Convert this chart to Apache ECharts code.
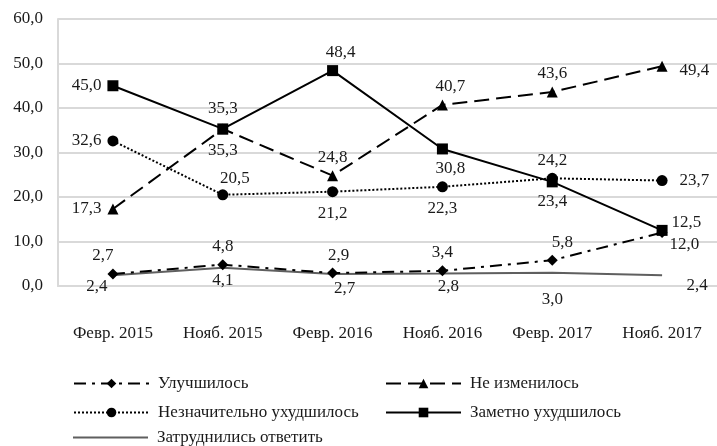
<!DOCTYPE html>
<html><head><meta charset="utf-8">
<script src="https://cdn.jsdelivr.net/npm/echarts@6/dist/echarts.min.js"></script>
<style>html,body{margin:0;padding:0;background:#fff}#c{width:717px;height:446px}</style>
</head><body><div id="c"></div>
<script>
const categories = ['Февр. 2015','Нояб. 2015','Февр. 2016','Нояб. 2016','Февр. 2017','Нояб. 2017'];
const improved = [2.7, 4.8, 2.9, 3.4, 5.8, 12.0];
const unchanged = [17.3, 35.3, 24.8, 40.7, 43.6, 49.4];
const slightlyWorse = [32.6, 20.5, 21.2, 22.3, 24.2, 23.7];
const muchWorse = [45.0, 35.3, 48.4, 30.8, 23.4, 12.5];
const hardToSay = [2.4, 4.1, 2.7, 2.8, 3.0, 2.4];
const yTicks = [0, 10, 20, 30, 40, 50, 60];
const names = ['Улучшилось','Не изменилось','Незначительно ухудшилось','Заметно ухудшилось','Затруднились ответить'];

// label placement per point (position, offset)
const lp = {
  improved: [['top',[-10,0]],['top',[0,0]],['top',[6,0]],['top',[0,0]],['top',[10,0]],['right',[-2,12]]],
  unchanged: [['left',[-2,0]],['bottom',[0,4]],['top',[0,0]],['top',[8,0]],['top',[0,0]],['right',[8,4]]],
  slightlyWorse: [['left',[-2,0]],['top',[12,2]],['bottom',[0,4]],['bottom',[0,4]],['top',[0,0]],['right',[8,0]]],
  muchWorse: [['left',[-2,0]],['top',[0,-2]],['top',[8,0]],['bottom',[8,2]],['bottom',[0,2]],['right',[0,-8]]],
  hardToSay: [['bottom',[-16,-2]],['bottom',[0,0]],['bottom',[12,2]],['bottom',[6,0]],['bottom',[0,14]],['right',[20,10]]]
};
const fmt = v => v.toFixed(1).replace('.', ',');
function mk(vals, key){
  return vals.map((v,i)=>({value:v, label:{position:lp[key][i][0], offset:lp[key][i][1]}}));
}
const font = '"Liberation Serif","Times New Roman",serif';
const FS = 17;
const lbl = {show:true, fontFamily:font, fontSize:FS, color:'#1a1a1a', formatter:p=>fmt(p.value), distance:4};

const chart = echarts.init(document.getElementById('c'), null, {renderer:'canvas'});
function legend(name, left, top, extra){
  return Object.assign({data:[name], left:left, top:top, padding:0, itemWidth:75, itemHeight:12, itemGap:0,
    textStyle:{fontFamily:font, fontSize:FS, color:'#1a1a1a', padding:[0,0,0,4]}}, extra||{});
}
chart.setOption({
  animation:false,
  grid:{left:58, top:19, width:663, height:267},
  legend:[
    legend(names[0], 73, 375),
    legend(names[1], 385, 375),
    legend(names[2], 73, 404),
    legend(names[3], 385, 404),
    legend(names[4], 73, 429, {data:[{name:names[4], icon:'rect', itemStyle:{color:'#5f5f5f'}}], itemHeight:2})
  ],
  xAxis:{type:'category', data:categories, boundaryGap:true,
    axisLine:{show:true, lineStyle:{color:'#d9d9d9', width:2}}, axisTick:{show:false},
    axisLabel:{fontFamily:font, fontSize:FS, color:'#1a1a1a', margin:39}},
  yAxis:{type:'value', min:yTicks[0], max:yTicks[yTicks.length-1], interval:10,
    axisLine:{show:true, lineStyle:{color:'#d9d9d9', width:2}}, axisTick:{show:false},
    splitLine:{lineStyle:{color:'#d9d9d9', width:2}},
    axisLabel:{fontFamily:font, fontSize:FS, color:'#1a1a1a', margin:15, formatter:v=>fmt(v)}},
  series:[
    {name:names[4], type:'line', data:mk(hardToSay,'hardToSay'), symbol:'circle', symbolSize:1,
      lineStyle:{color:'#5f5f5f', width:2}, itemStyle:{color:'rgba(0,0,0,0)'}, label:lbl, z:1},
    {name:names[0], type:'line', data:mk(improved,'improved'), symbol:'diamond', symbolSize:11,
      lineStyle:{color:'#000', width:2, type:[12,6,3,6]}, itemStyle:{color:'#000'}, label:lbl, z:2},
    {name:names[1], type:'line', data:mk(unchanged,'unchanged'), symbol:'triangle', symbolSize:11,
      lineStyle:{color:'#000', width:2, type:[15,7]}, itemStyle:{color:'#000'}, label:lbl, z:3},
    {name:names[2], type:'line', data:mk(slightlyWorse,'slightlyWorse'), symbol:'circle', symbolSize:11,
      lineStyle:{color:'#000', width:2, type:[2,2]}, itemStyle:{color:'#000'}, label:lbl, z:4},
    {name:names[3], type:'line', data:mk(muchWorse,'muchWorse'), symbol:'rect', symbolSize:11,
      lineStyle:{color:'#000', width:2}, itemStyle:{color:'#000'}, label:lbl, z:5}
  ]
});
</script></body></html>
